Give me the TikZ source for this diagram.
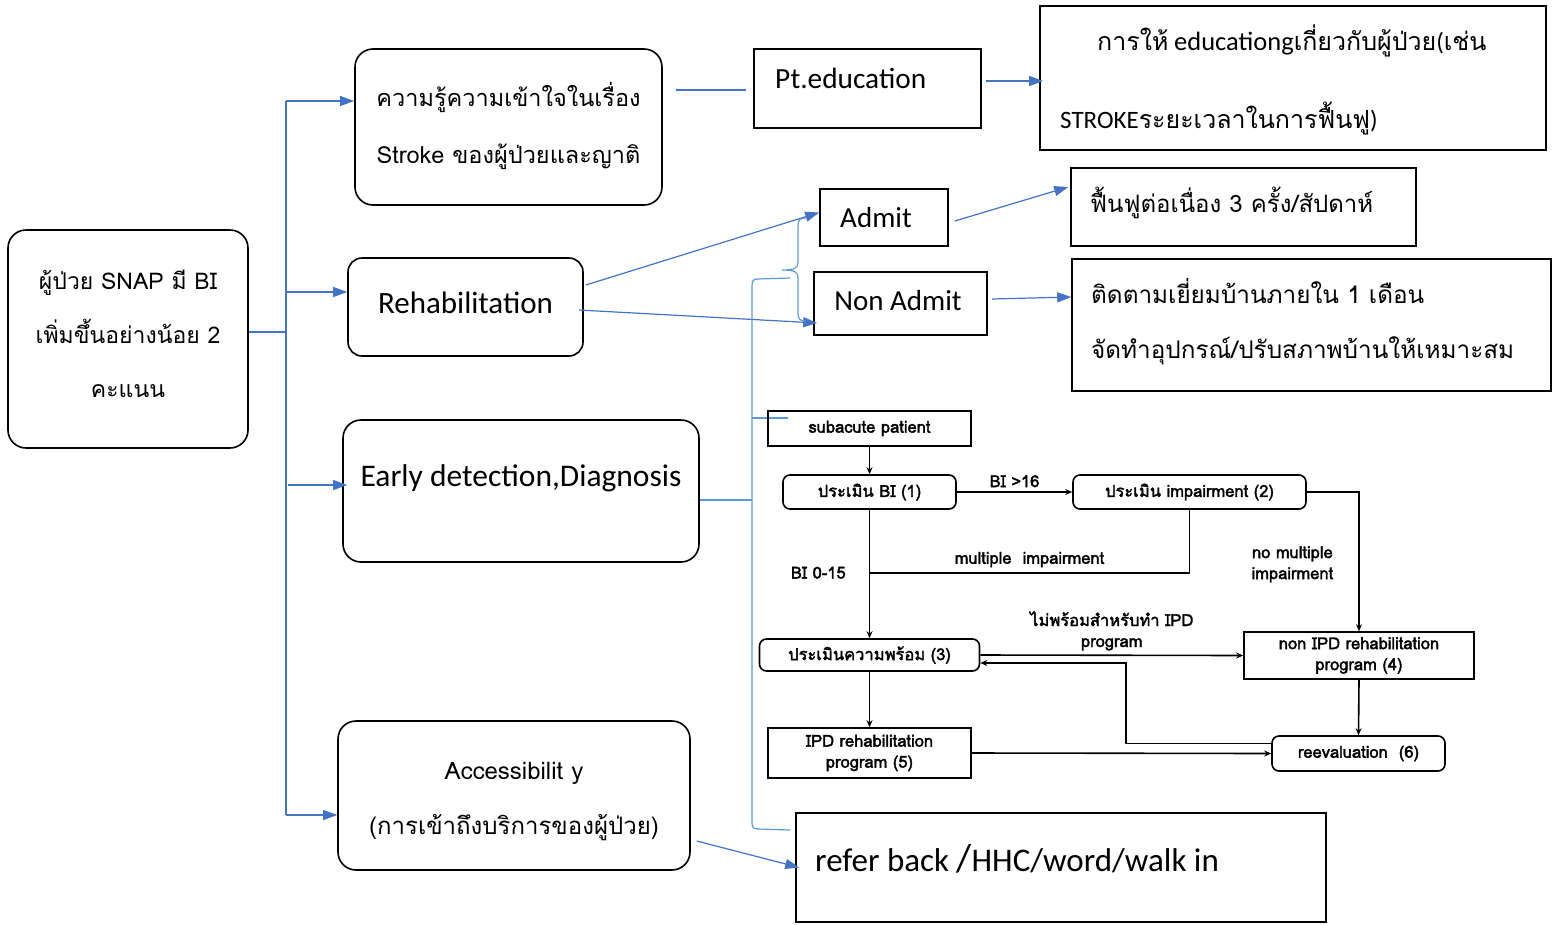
\documentclass[tikz,border=0pt]{standalone}
\usepackage{fontspec}
\setmainfont{Carlito}
\newfontfamily\thai[Script=Thai]{Loma}
\newfontfamily\thaib[Script=Thai,FakeBold=2.2]{Loma}
\usetikzlibrary{arrows.meta}
\definecolor{ablue}{HTML}{4472C4}
\definecolor{lblue}{HTML}{5B9BD5}
\tikzset{
  rbox/.style={draw, line width=1.6pt, rounded corners=18pt, inner sep=0pt, align=center},
  sbox/.style={draw, line width=1.6pt, inner sep=0pt},
  bl/.style={ablue, line width=1.2pt},
  bla/.style={ablue, line width=1.2pt, -{Triangle[length=14pt,width=10pt]}},
  lb/.style={lblue, line width=1.2pt},
  fbox/.style={draw, line width=1.6pt, inner sep=0pt, align=center, font=\thaib\fontsize{16.5}{21}\selectfont},
  frbox/.style={fbox, rounded corners=7pt},
  fl/.style={line width=1.6pt},
  fa/.style={line width=1.6pt, -{Stealth[length=7pt,width=6pt]}},
  flab/.style={font=\thaib\fontsize{16.5}{21}\selectfont, align=center, inner sep=1pt},
}
\begin{document}
\begin{tikzpicture}[x=1pt,y=-1pt]
\useasboundingbox (0,0) rectangle (1555,924);

% main left box
\node[rbox, minimum width=240pt, minimum height=218pt] (A) at (128,339) {};
\node[align=center, inner sep=0pt, font=\thai\fontsize{23}{54}\selectfont] (At) at (128,334)
  {ผู้ป่วย SNAP มี BI\\เพิ่มขึ้นอย่างน้อย 2\\คะแนน};

% second column
\node[rbox, minimum width=307pt, minimum height=156pt] (K) at (508.5,127) {};
\node[align=center, inner sep=0pt, font=\thai\fontsize{23.5}{57}\selectfont] (Kt) at (508.5,126)
  {ความรู้ความเข้าใจในเรื่อง\\Stroke ของผู้ป่วยและญาติ};
\node[rbox, rounded corners=14pt, minimum width=235pt, minimum height=98pt] (R) at (465.5,307) {};
\node[inner sep=0pt, font=\fontsize{31}{36}\selectfont] (Rt) at (465.5,303) {Rehabilitation};
\node[rbox, minimum width=356pt, minimum height=142pt] (E) at (521,491) {};
\node[inner sep=0pt, font=\fontsize{31.5}{36}\selectfont] (Et) at (521,478) {Early detection,Diagnosis};
\node[rbox, minimum width=352pt, minimum height=149pt] (Acc) at (514,795.5) {};
\node[align=center, inner sep=0pt, font=\thai\fontsize{24}{55}\selectfont] (Acct) at (514,802)
  {Accessibilit y\\(การเข้าถึงบริการของผู้ป่วย)};

% third column
\node[sbox, minimum width=227pt, minimum height=79pt] (Pt) at (867.5,88.5) {};
\node[anchor=west, font=\fontsize{29.3}{34}\selectfont, inner sep=0pt] (Ptt) at (775,78) {Pt.education};
\node[sbox, minimum width=128pt, minimum height=57pt] (Ad) at (884,217.5) {};
\node[font=\fontsize{29}{34}\selectfont, inner sep=0pt] (Adt) at (876,218) {Admit};
\node[sbox, minimum width=173pt, minimum height=63pt] (NA) at (900.5,303.5) {};
\node[font=\fontsize{29}{34}\selectfont, inner sep=0pt] (NAt) at (898,301) {Non Admit};

% right column
\node[sbox, minimum width=506pt, minimum height=144pt] (T1) at (1293,78) {};
\node[anchor=west, inner sep=0pt, font=\fontsize{25}{30}\selectfont] (T1a) at (1097,41)
  {{\thai การให้} {\fontsize{26.5}{30}\selectfont educationg}{\thai เกี่ยวกับผู้ป่วย}({\thai เช่น}};
\node[anchor=west, inner sep=0pt, font=\fontsize{25}{30}\selectfont] (T1b) at (1060,119)
  {STROKE{\thai ระยะเวลาในการฟื้นฟู})};
\node[sbox, minimum width=345pt, minimum height=78pt] (F1) at (1243.5,207) {};
\node[anchor=west, inner sep=0pt, font=\thai\fontsize{24}{30}\selectfont] (F1t) at (1090,203)
  {ฟื้นฟูต่อเนื่อง 3 ครั้ง/สัปดาห์};
\node[sbox, minimum width=479pt, minimum height=132pt] (F2) at (1311.5,325) {};
\node[anchor=west, inner sep=0pt, align=left, font=\thai\fontsize{24.3}{55}\selectfont] (F2t) at (1091,321.5)
  {ติดตามเยี่ยมบ้านภายใน 1 เดือน\\จัดทำอุปกรณ์/ปรับสภาพบ้านให้เหมาะสม};

% refer back
\node[sbox, minimum width=530pt, minimum height=109pt] (Ref) at (1061,867.5) {};
\node[anchor=west, inner sep=0pt, font=\fontsize{33}{36}\selectfont] (Reft) at (815,859)
  {refer back {\fontsize{39}{36}\selectfont/}HHC/word/walk in};

% left spine
\coordinate (sp) at (286,332);
\coordinate (spT) at (286,101);
\coordinate (spB) at (286,815);
\coordinate (spR) at (286,292);
\coordinate (spE) at (288,485);
\draw[bl] ([yshift=7pt]A.east) -- (sp);
\draw[bl] (spT) -- (spB);
\draw[bla] (spT) -- (spT -| K.west);
\draw[bla] (spR) -- (spR -| R.west);
\draw[bla] (spE) -- ([xshift=5pt]spE -| E.west);
\draw[bla] (spB) -- (spB -| Acc.west);

% blue connectors
\draw[bl] ([xshift=13pt,yshift=37pt]K.east) -- ([xshift=-7pt,yshift=-1.5pt]Pt.west);
\draw[bla] ([xshift=4pt,yshift=7.5pt]Pt.east) -- ([xshift=4pt,yshift=-3pt]T1.west);
\draw[bla] ([xshift=2pt,yshift=22pt]R.east) -- ([yshift=5pt]Ad.west);
\draw[bla] ([xshift=-5pt,yshift=-3pt]R.east) -- ([xshift=4pt,yshift=-19.5pt]NA.west);
\draw[bla] ([xshift=6pt,yshift=-3.5pt]Ad.east) -- ([xshift=-2pt,yshift=20pt]F1.west);
\draw[bla] ([xshift=4pt,yshift=4.5pt]NA.east) -- ([yshift=28pt]F2.west);
\draw[bla] ([xshift=6pt,yshift=-45.5pt]Acc.east) -- ([xshift=4pt]Ref.west);

% brace and bracket
\draw[lb] (806,218) .. controls (800,218) and (798,220) .. (798,226) -- (798,262)
  .. controls (798,268) and (795,270) .. (782,270)
  .. controls (795,270) and (798,272) .. (798,278) -- (798,314)
  .. controls (798,319) and (800,321) .. (806,321);
\coordinate (bk1) at (790,278);
\coordinate (bk4) at (790,830);
\coordinate (bkE) at (752,500);
\coordinate (bkS) at (752,418);
\draw[lb] (bk1) -- (758,279) .. controls (753,279) and (752,281) .. (752,286) -- (752,822)
  .. controls (752,827) and (753,829) .. (758,829) -- (bk4);
\draw[lb] ([yshift=-9pt]E.east) -- (bkE);
\draw[lb] (bkS) -- (788,418);

% flowchart
\node[fbox, minimum width=203pt, minimum height=35pt] (s) at (869.5,428.5) {subacute patient};
\node[frbox, minimum width=173pt, minimum height=34pt] (b1) at (869.5,492) {ประเมิน BI (1)};
\node[frbox, minimum width=233pt, minimum height=34pt] (i2) at (1189.5,492) {ประเมิน impairment (2)};
\node[frbox, minimum width=220pt, minimum height=32pt] (r3) at (869.5,655) {ประเมินความพร้อม (3)};
\node[fbox, minimum width=230pt, minimum height=47pt] (n4) at (1359,655.5) {non IPD rehabilitation\\program (4)};
\node[fbox, minimum width=203pt, minimum height=50pt] (p5) at (869.5,753) {IPD rehabilitation\\program (5)};
\node[frbox, minimum width=173pt, minimum height=35pt] (e6) at (1358.5,753.5) {reevaluation~~(6)};

\coordinate (j) at (869.5,573);
\draw[fa] (s.south) -- (b1.north);
\draw[fa] (b1.east) -- (i2.west) node[flab, midway, above=3pt] {BI >16};
\draw[fa] (b1.south) -- (r3.north) node[flab, pos=0.49, left=22pt] {BI 0-15};
\draw[fl] (i2.south) |- (j) node[flab, pos=0.75, above=4pt] {multiple~~impairment};
\draw[fa] (i2.east) -| (n4.north) node[flab, pos=0.76, left=24pt] {no multiple\\impairment};
\draw[fa] (r3.east) -- (n4.west) node[flab, midway, above=3pt] {ไม่พร้อมสำหรับทำ IPD\\program};
\draw[fa] (r3.south) -- (p5.north);
\draw[fa] (n4.south) -- (e6.north);
\draw[fa] (p5.east) -- (e6.west);
\draw[fa] ([yshift=10pt]e6.west) -- ++(-145,0) |- ([yshift=-8pt]r3.east);
\end{tikzpicture}
\end{document}
